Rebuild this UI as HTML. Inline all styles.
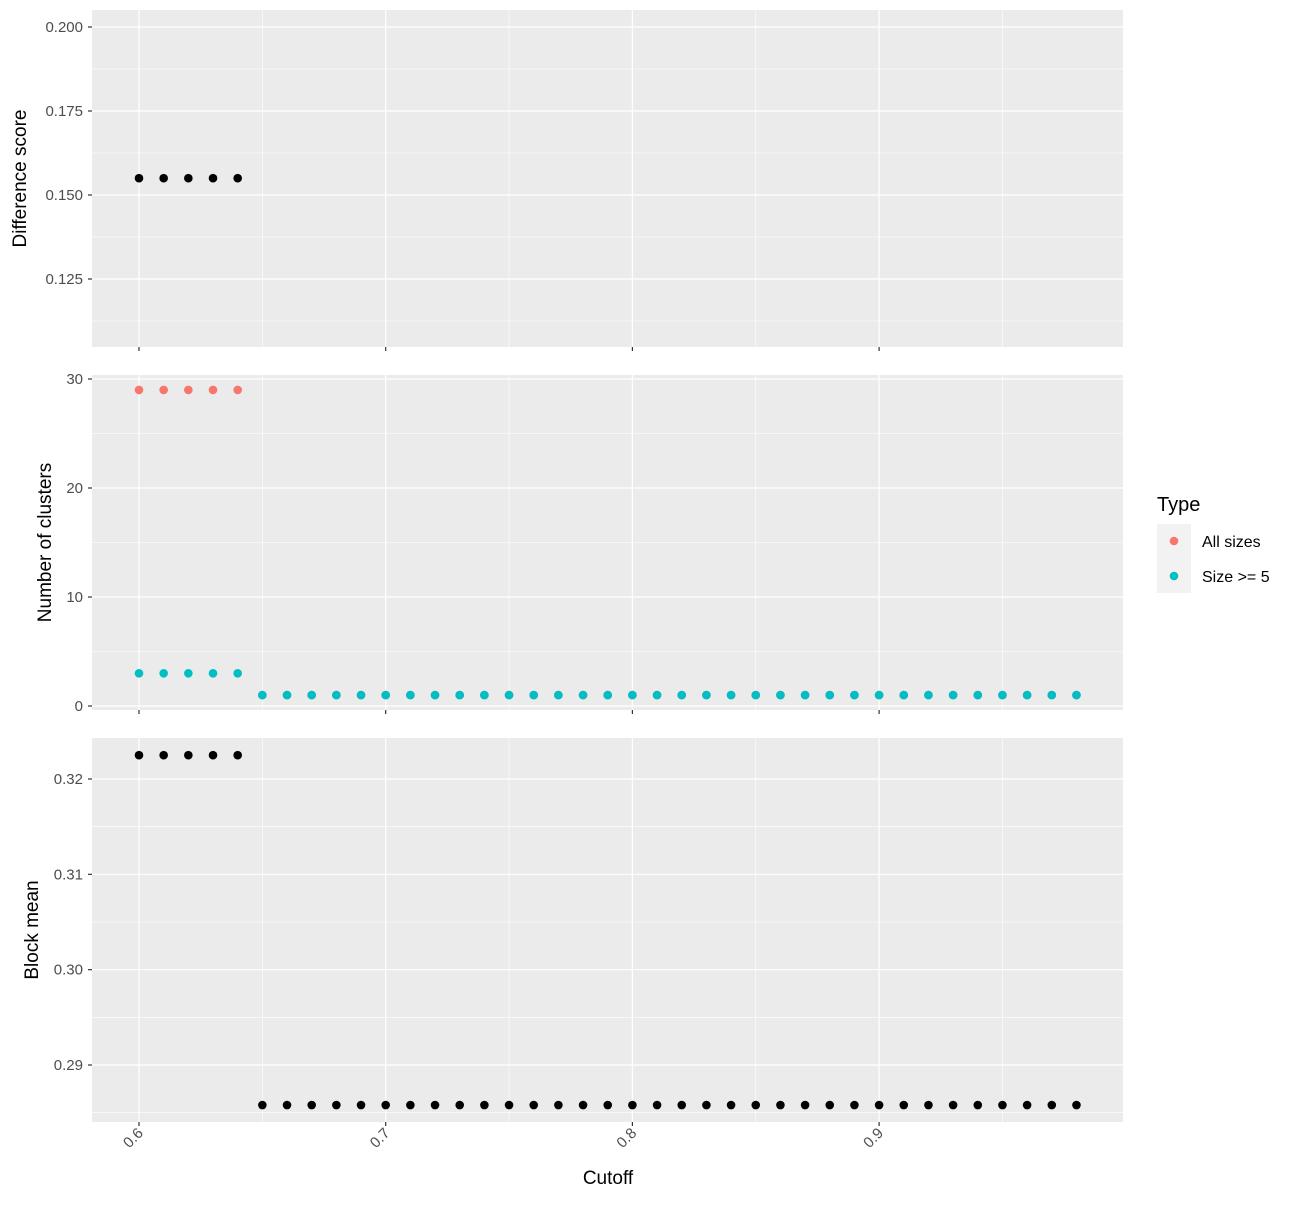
<!DOCTYPE html>
<html><head><meta charset="utf-8"><style>body{margin:0;background:#fff}svg{font-family:"Liberation Sans",sans-serif}</style></head>
<body>
<svg id="c" width="1300" height="1200" xmlns="http://www.w3.org/2000/svg"></svg>
<script>
const cutoffs=[];for(let i=60;i<=98;i++)cutoffs.push(i/100);
const diffScore=[0.155,0.155,0.155,0.155,0.155];
const allSizes=[29,29,29,29,29,1,1,1,1,1,1,1,1,1,1,1,1,1,1,1,1,1,1,1,1,1,1,1,1,1,1,1,1,1,1,1,1,1,1];
const size5=[3,3,3,3,3,1,1,1,1,1,1,1,1,1,1,1,1,1,1,1,1,1,1,1,1,1,1,1,1,1,1,1,1,1,1,1,1,1,1];
const blockMean=[0.3225,0.3225,0.3225,0.3225,0.3225,0.2858,0.2858,0.2858,0.2858,0.2858,0.2858,0.2858,0.2858,0.2858,0.2858,0.2858,0.2858,0.2858,0.2858,0.2858,0.2858,0.2858,0.2858,0.2858,0.2858,0.2858,0.2858,0.2858,0.2858,0.2858,0.2858,0.2858,0.2858,0.2858,0.2858,0.2858,0.2858,0.2858,0.2858];
const xTicks=[0.6,0.7,0.8,0.9];
const xTickLabels=["0.6","0.7","0.8","0.9"];
const y1Ticks=[0.125,0.15,0.175,0.2], y1Labels=["0.125","0.150","0.175","0.200"];
const y2Ticks=[0,10,20,30], y2Labels=["0","10","20","30"];
const y3Ticks=[0.29,0.3,0.31,0.32], y3Labels=["0.29","0.30","0.31","0.32"];
const NS="http://www.w3.org/2000/svg",svg=document.getElementById('c');
function el(t,a,p){const e=document.createElementNS(NS,t);for(const k in a)e.setAttribute(k,a[k]);(p||svg).appendChild(e);return e;}
const L=92,R=1123;
const xs=v=>139+(v-0.6)*2467;
function lin(v0,p0,v1,p1){return v=>p0+(v-v0)*(p1-p0)/(v1-v0);}
const panels=[
 {top:10,bot:347,ys:lin(0.2,27,0.125,279),ticks:y1Ticks,labels:y1Labels,title:"Difference score",tx:26,name:"difference-score-panel"},
 {top:375,bot:710,ys:lin(30,379,0,706),ticks:y2Ticks,labels:y2Labels,title:"Number of clusters",tx:51,name:"clusters-panel"},
 {top:738,bot:1122,ys:lin(0.32,779,0.29,1065),ticks:y3Ticks,labels:y3Labels,title:"Block mean",tx:38,name:"block-mean-panel"}];
panels.forEach((p,pi)=>{
 const g=el('g',{});
 
 
 el('rect',{x:L,y:p.top,width:R-L,height:p.bot-p.top,fill:'#ebebeb'},g);
 const step=p.ticks[1]-p.ticks[0];
 for(let k=-1;k<p.ticks.length;k++){const y=p.ys(p.ticks[0]+step*(k+0.5));if(y>p.top&&y<p.bot)el('line',{x1:L,x2:R,y1:y,y2:y,stroke:'#fff','stroke-width':0.6},g);}
 for(let k=-1;k<xTicks.length;k++){const x=xs(xTicks[0]+0.1*(k+0.5));if(x>L&&x<R)el('line',{x1:x,x2:x,y1:p.top,y2:p.bot,stroke:'#fff','stroke-width':0.6},g);}
 p.ticks.forEach((t,i)=>{const y=p.ys(t);
  el('line',{x1:L,x2:R,y1:y,y2:y,stroke:'#fff','stroke-width':1.2},g);
  el('line',{x1:L-4,x2:L,y1:y,y2:y,stroke:'#333','stroke-width':1.2},g);
  const tx=el('text',{x:L-9,y:y+5,'text-anchor':'end','font-size':15,fill:'#4d4d4d'},g);tx.textContent=p.labels[i];
  });
 xTicks.forEach(t=>{const x=xs(t);
  el('line',{x1:x,x2:x,y1:p.top,y2:p.bot,stroke:'#fff','stroke-width':1.2},g);
  el('line',{x1:x,x2:x,y1:p.bot,y2:p.bot+4,stroke:'#333','stroke-width':1.2},g);});
 const yt=el('text',{x:0,y:0,'text-anchor':'middle','font-size':19,fill:'#000',transform:`translate(${p.tx},${(p.top+p.bot)/2}) rotate(-90)`},g);
 yt.textContent=p.title;
});
function pts(vals,p,color,name){vals.forEach((v,i)=>{const c=el('circle',{cx:xs(cutoffs[i]),cy:p.ys(v),r:4.3,fill:color});
 });}
pts(diffScore,panels[0],'#000','diff-point');
pts(allSizes,panels[1],'#f8766d','all-sizes-point');
pts(size5,panels[1],'#00bfc4','size5-point');
pts(blockMean,panels[2],'#000','block-mean-point');
xTicks.forEach((t,i)=>{const x=xs(t);const tx=el('text',{x:0,y:0,'text-anchor':'end','font-size':15,fill:'#4d4d4d',transform:`translate(${x+5},${1134}) rotate(-45)`});
 tx.textContent=xTickLabels[i];});
const xt=el('text',{x:608,y:1184,'text-anchor':'middle','font-size':19});xt.textContent='Cutoff';

const lg=el('g',{});
const lt=el('text',{x:1157,y:511,'font-size':20},lg);lt.textContent='Type';
el('rect',{x:1157,y:524,width:34,height:69,fill:'#f2f2f2'},lg);
el('circle',{cx:1174,cy:541,r:4.3,fill:'#f8766d'},lg);
el('circle',{cx:1174,cy:576,r:4.3,fill:'#00bfc4'},lg);
const a=el('text',{x:1202,y:547,'font-size':16},lg);a.textContent='All sizes';

const b=el('text',{x:1202,y:582,'font-size':16},lg);b.textContent='Size >= 5';

</script>
</body></html>
